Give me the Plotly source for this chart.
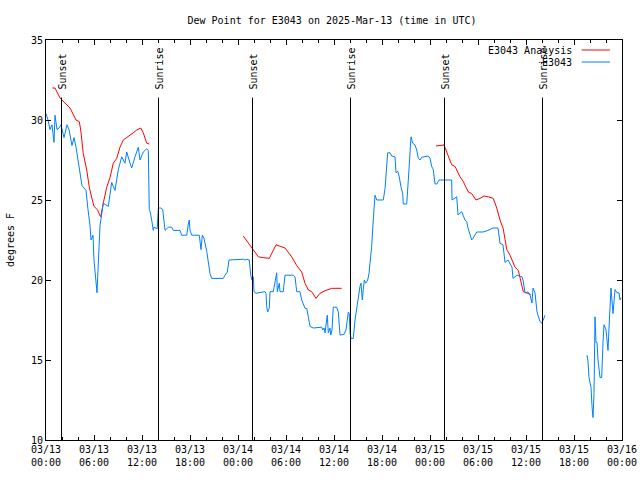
import plotly.graph_objects as go

# ---- data (hours since 2025-03-13 00:00 UTC, dew point in deg F) ----
obs_hours = [0.0, 0.25, 0.5, 0.75, 1.0, 1.125, 1.375, 1.625, 1.875, 2.25, 2.625, 2.875, 3.25, 3.5, 3.75,
             4.0, 4.25, 4.5, 4.75, 5.0, 5.25, 5.5, 5.625, 5.875, 6.0, 6.25, 6.375, 6.5, 6.625, 6.75,
             7.16, 7.79, 8.21, 8.625, 9.04, 9.46, 9.875, 10.09, 10.5, 10.71, 11.125, 11.54, 11.75, 12.16,
             12.59, 12.79, 12.91, 13.0, 13.21, 13.41, 13.5, 13.91, 14.04, 14.34, 14.59, 14.875, 15.29,
             15.71, 15.91, 16.75, 16.96, 17.59, 17.79, 17.91, 18.0, 18.21, 19.16, 19.25, 19.375, 19.54,
             19.75, 20.09, 20.29, 20.5, 20.71, 22.16, 22.375, 22.66, 22.875, 24.66, 24.875, 25.09, 25.41,
             25.59, 25.75, 25.91, 26.0, 26.25, 27.375, 27.5, 27.59, 27.71, 27.91, 28.0, 28.41, 28.625,
             28.84, 28.91, 29.16, 29.25, 29.66, 29.875, 30.91, 31.125, 31.34, 31.75, 31.96, 32.375,
             32.59, 32.79, 33.0, 33.41, 34.46, 34.59, 34.75, 34.875, 35.0, 35.16, 35.29, 35.5, 35.59,
             35.75, 35.91, 36.34, 36.54, 36.66, 36.75, 37.25, 37.5, 37.66, 37.79, 37.91, 38.0, 38.125,
             38.41, 38.625, 38.84, 39.04, 39.25, 39.375, 39.54, 39.66, 39.79, 39.96, 40.21, 40.375,
             40.5, 40.71, 40.91, 41.125, 41.34, 42.16, 42.375, 42.59, 42.71, 43.0, 43.21, 43.625, 43.75,
             43.96, 44.16, 44.375, 44.59, 44.66, 45.09, 45.29, 45.41, 45.625, 45.84, 46.125, 46.34,
             46.54, 46.75, 46.96, 47.79, 48.0, 48.21, 48.41, 48.625, 48.84, 49.125, 50.71, 50.75, 51.34,
             51.5, 51.96, 52.375, 52.59, 52.75, 53.21, 53.375, 53.84, 54.625, 55.25, 55.875, 56.5,
             56.75, 57.125, 57.375, 57.75, 58.25, 58.375, 58.875, 59.5, 59.625, 59.875, 60.25, 60.5,
             60.75, 60.875, 61.125, 61.375, 61.75, 62.0, 62.375,
             65.0,
             67.625, 67.75, 67.875, 68.125, 68.25, 68.375, 68.5, 68.625, 68.75, 68.875, 69.0, 69.125,
             69.25, 69.46, 69.5, 69.625, 69.75, 70.0, 70.125, 70.25, 70.375, 70.5, 70.625, 70.875,
             71.0, 71.125, 71.375, 71.625, 71.75, 71.875]
obs_values = [30.4, 30.0, 29.4, 29.7, 28.6, 30.3, 29.4, 29.5, 29.7, 28.9, 29.7, 29.4, 28.4, 28.9, 28.3,
              27.5, 26.9, 25.9, 25.75, 25.6, 24.4, 23.4, 22.5, 22.8, 21.25, 20.0, 19.2, 20.6, 22.5, 23.4,
              24.8, 24.6, 26.1, 25.6, 26.9, 27.7, 27.3, 28.0, 27.3, 27.0, 27.7, 28.3, 27.5, 28.0,
              28.2, 28.1, 24.4, 24.3, 23.75, 23.1, 23.3, 23.2, 24.5, 24.5, 24.4, 23.1, 23.3,
              23.3, 23.1, 23.1, 22.8, 22.8, 23.5, 23.75, 23.1, 22.8, 22.8, 22.4, 21.9, 22.8,
              22.6, 21.8, 21.1, 20.4, 20.1, 20.1, 20.3, 20.5, 21.25, 21.3, 21.25, 21.3, 21.25,
              20.3, 20.0, 20.2, 19.27, 19.17, 19.27, 19.17, 18.33, 18.0, 18.23, 19.27, 19.27, 20.0,
              20.45, 19.27, 19.8, 19.27, 19.27, 20.3, 20.3, 20.2, 19.27, 19.27, 18.75, 18.23,
              18.23, 17.7, 17.1, 17.0, 17.05, 16.875, 17.0, 16.7, 17.4, 17.8, 16.7, 17.0, 16.56,
              16.875, 18.3, 18.3, 18.0, 16.875, 16.56, 16.6, 16.875, 17.5, 18.0, 17.9, 16.7, 16.35,
              16.35, 17.5, 18.3, 18.95, 19.6, 19.8, 18.75, 19.4, 20.0, 19.8, 20.0, 20.4,
              21.0, 22.1, 23.75, 25.3, 25.0, 25.0, 25.7, 27.5, 27.95, 27.95, 27.75, 27.7, 26.7,
              26.8, 26.45, 25.8, 25.4, 24.75, 24.75, 26.25, 27.5, 28.95, 28.55, 28.44, 28.125,
              27.6, 27.5, 27.67, 27.75, 27.6, 27.1, 26.9, 26.0, 26.0, 26.25, 26.25, 25.0, 25.2,
              24.06, 24.27, 23.75, 23.65, 23.25, 22.5, 22.6, 23.0, 23.0, 23.1, 23.25, 23.25,
              22.3, 22.2, 21.1, 21.25, 20.8, 20.1, 20.3, 20.2, 20.0, 19.2, 19.25, 19.06,
              18.56, 19.5, 19.2, 18.0, 17.4, 17.3, 17.8,
              None,
              15.3, 14.9, 13.9, 13.3, 12.1, 11.4, 12.9, 17.7, 16.1, 16.1, 15.0, 14.2,
              13.9, 13.9, 14.6, 16.1, 17.2, 16.9, 16.25, 15.6, 17.0, 18.9, 19.5, 17.9,
              18.9, 19.4, 19.2, 19.2, 18.75, 18.9]

ana_hours = [0.79, 1.125, 1.75, 2.125, 3.0, 3.75, 4.16, 4.34, 4.66, 5.09, 5.41, 5.79, 6.0, 6.41, 6.84,
             7.16, 7.59, 8.0, 8.41, 8.84, 9.25, 9.66, 10.29, 10.91, 11.34, 11.84, 12.16, 12.59, 12.91,
             18.0,
             24.66, 25.29, 25.71, 26.54, 27.16, 27.91, 28.75, 29.46, 29.875, 30.71, 31.34, 31.96,
             32.375, 32.79, 33.21, 33.75, 34.25, 34.875, 35.71, 36.96,
             42.0,
             48.75, 49.75, 50.09, 50.71, 51.125, 51.75, 52.16, 52.79, 53.21, 53.75, 54.25, 54.75,
             55.29, 55.91, 56.34, 56.75, 57.16, 57.59, 58.0, 58.625, 59.04, 59.46, 59.66, 60.16, 60.59]
ana_values = [32.0, 32.0, 31.375, 31.2, 30.75, 30.0, 29.9, 29.375, 27.9, 26.875, 25.8, 25.0, 24.6, 24.4, 23.95,
              24.8, 25.8, 26.4, 27.3, 27.6, 28.3, 28.75, 28.95, 29.2, 29.375, 29.5, 29.2, 28.55, 28.5,
              None,
              22.75, 22.3, 22.0, 21.45, 21.4, 21.35, 22.2, 22.05, 22.0, 21.45, 20.9, 20.5,
              19.8, 19.375, 19.27, 18.85, 19.17, 19.33, 19.48, 19.48,
              None,
              28.375, 28.44, 28.0, 27.2, 27.1, 26.45, 26.15, 25.5, 25.4, 25.0, 25.1, 25.25,
              25.2, 25.1, 24.5, 23.75, 23.2, 21.9, 21.55, 20.8, 20.6, 19.8, 19.27, 19.17, 19.1]

sun_hours = [1.9375, 14.0625, 25.8125, 38.0625, 49.8125, 62.0625]
sun_labels = ["Sunset", "Sunrise", "Sunset", "Sunrise", "Sunset", "Sunrise"]
sun_line_top = 31.4

tick_hours = [0, 6, 12, 18, 24, 30, 36, 42, 48, 54, 60, 66, 72]
tick_labels = ["03/13<br>00:00", "03/13<br>06:00", "03/13<br>12:00", "03/13<br>18:00",
               "03/14<br>00:00", "03/14<br>06:00", "03/14<br>12:00", "03/14<br>18:00",
               "03/15<br>00:00", "03/15<br>06:00", "03/15<br>12:00", "03/15<br>18:00",
               "03/16<br>00:00"]
y_ticks = [10, 15, 20, 25, 30, 35]

series_names = ["E3043 Analysis", "E3043"]
series_colors = ["#ff0000", "#0080ff"]

FONT = "DejaVu Sans Mono"

fig = go.Figure()
fig.add_trace(go.Scatter(x=ana_hours, y=ana_values, mode="lines", name=series_names[0],
                         line=dict(color=series_colors[0], width=1), connectgaps=False))
fig.add_trace(go.Scatter(x=obs_hours, y=obs_values, mode="lines", name=series_names[1],
                         line=dict(color=series_colors[1], width=1), connectgaps=False))

for h, lab in zip(sun_hours, sun_labels):
    fig.add_shape(type="line", xref="x", yref="y", x0=h, x1=h, y0=10, y1=sun_line_top,
                  line=dict(color="black", width=1))
    fig.add_annotation(x=h, y=sun_line_top + 0.35, xref="x", yref="y", text=lab, textangle=-90,
                       showarrow=False, xanchor="center", yanchor="bottom",
                       font=dict(family=FONT, size=10, color="black"))

# gnuplot-style key: text then sample line
key_y = [0.975, 0.945]
for name, color, ky in zip(series_names, series_colors, key_y):
    fig.add_annotation(x=0.916, y=ky, xref="paper", yref="paper", text=name, showarrow=False,
                       xanchor="right", yanchor="middle", font=dict(family=FONT, size=10, color="black"))
    fig.add_shape(type="line", xref="paper", yref="paper", x0=0.930, x1=0.979, y0=ky, y1=ky,
                  line=dict(color=color, width=1))

fig.update_layout(
    width=640, height=480,
    margin=dict(l=46, r=18, t=40, b=40, autoexpand=False),
    paper_bgcolor="white", plot_bgcolor="white",
    showlegend=False,
    font=dict(family=FONT, size=10, color="black"),
    title=dict(text="Dew Point for E3043 on 2025-Mar-13 (time in UTC)", xref="paper", x=0.4965,
               xanchor="center", y=0.958, yanchor="middle", font=dict(family=FONT, size=10, color="black")),
)
fig.update_xaxes(range=[0, 72], tickmode="array", tickvals=tick_hours, ticktext=tick_labels,
                 ticks="inside", ticklen=5, tickcolor="black", showline=True, linecolor="black",
                 linewidth=1, mirror="allticks", showgrid=False, zeroline=False, automargin=False,
                 minor=dict(dtick=2, tick0=0, ticks="inside", ticklen=3, tickcolor="black", showgrid=False),
                 tickfont=dict(family=FONT, size=10))
fig.update_yaxes(range=[10, 35], tickmode="array", tickvals=y_ticks, ticks="inside", ticklen=5,
                 tickcolor="black", showline=True, linecolor="black", linewidth=1, mirror="allticks",
                 showgrid=False, zeroline=False, automargin=False, tickfont=dict(family=FONT, size=10),
                 title=dict(text="degrees F", standoff=14, font=dict(family=FONT, size=10)))

fig.write_html("out.html", config={"displayModeBar": False},
               post_script="document.body.style.margin='0';document.body.style.overflow='hidden';")
